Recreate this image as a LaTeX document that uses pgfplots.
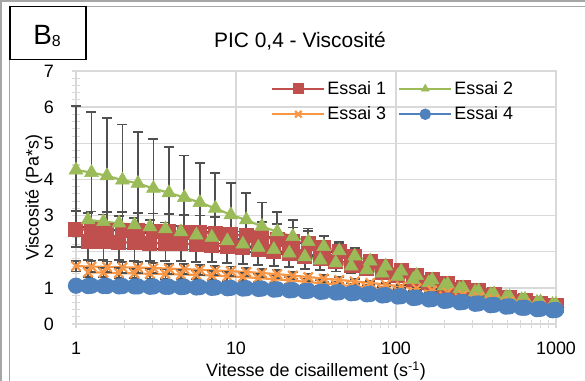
\documentclass[border=0pt]{standalone}
\usepackage{pgfplots}
\usepackage{pgfplotstable}
\pgfplotsset{compat=1.18}
\usepackage{fontspec}
\setmainfont{Liberation Sans}
\definecolor{c1}{HTML}{C0504D}
\definecolor{c2}{HTML}{9BBB59}
\definecolor{c3}{HTML}{F79646}
\definecolor{c4}{HTML}{4F81BD}
\definecolor{gridg}{HTML}{D9D9D9}
\definecolor{errg}{HTML}{505050}
\definecolor{frameg}{HTML}{A6A6A6}

\pgfplotstableread{
x y e
1 2.62 0.50
1.2496 2.61 0.50
1.5615 2.60 0.50
1.9513 2.59 0.50
2.4384 2.58 0.50
3.0471 2.57 0.49
3.8077 2.56 0.49
4.7581 2.54 0.48
5.9458 2.52 0.48
7.4300 2.50 0.47
9.2846 2.47 0.46
11.602 2.44 0.45
14.498 2.40 0.43
18.117 2.35 0.41
22.639 2.29 0.38
28.290 2.22 0.35
35.352 2.12 0.31
44.176 2.00 0.27
55.203 1.87 0.23
68.983 1.73 0.19
86.203 1.60 0.15
107.72 1.47 0.12
134.61 1.35 0.10
168.21 1.23 0.08
210.19 1.12 0.06
262.66 1.02 0.05
328.22 0.92 0.04
410.15 0.83 0.03
512.53 0.74 0.03
640.47 0.66 0.02
800.34 0.58 0.02
1000 0.50 0.02
951.2 0.50 0.02
761.2 0.56 0.02
609.14 0.63 0.02
487.46 0.71 0.03
390.09 0.79 0.03
312.17 0.87 0.04
249.81 0.96 0.05
199.91 1.05 0.06
159.98 1.14 0.08
128.03 1.23 0.10
102.45 1.33 0.12
81.986 1.43 0.15
65.609 1.53 0.19
52.503 1.63 0.23
42.016 1.72 0.27
33.623 1.80 0.31
26.906 1.88 0.35
21.532 1.95 0.38
17.231 2.01 0.41
13.789 2.07 0.43
11.035 2.11 0.45
8.830 2.15 0.46
7.067 2.18 0.47
5.655 2.20 0.48
4.525 2.22 0.48
3.621 2.23 0.49
2.898 2.24 0.49
2.319 2.25 0.50
1.856 2.26 0.50
1.485 2.27 0.50
1.189 2.28 0.50
}\tabA

\pgfplotstableread{
x y e
1 4.26 1.77
1.2496 4.19 1.68
1.5615 4.10 1.59
1.9513 3.98 1.54
2.4384 3.89 1.43
3.0471 3.75 1.36
3.8077 3.63 1.26
4.7581 3.50 1.16
5.9458 3.36 1.09
7.4300 3.20 0.97
9.2846 3.02 0.89
11.602 2.88 0.74
14.498 2.70 0.66
18.117 2.55 0.55
22.639 2.42 0.46
28.290 2.28 0.36
35.352 2.14 0.28
44.176 2.02 0.20
55.203 1.88 0.16
68.983 1.74 0.13
86.203 1.60 0.11
107.72 1.46 0.09
134.61 1.34 0.08
168.21 1.22 0.07
210.19 1.10 0.06
262.66 1.00 0.05
328.22 0.91 0.04
410.15 0.83 0.04
512.53 0.75 0.03
640.47 0.68 0.03
800.34 0.61 0.02
1000 0.54 0.02
951.2 0.54 0.02
761.2 0.60 0.02
609.14 0.67 0.02
487.46 0.74 0.02
390.09 0.81 0.02
312.17 0.89 0.03
249.81 0.97 0.03
199.91 1.05 0.03
159.98 1.14 0.04
128.03 1.23 0.04
102.45 1.32 0.05
81.986 1.41 0.05
65.609 1.50 0.06
52.503 1.60 0.07
42.016 1.69 0.08
33.623 1.77 0.09
26.906 1.86 0.10
21.532 1.96 0.11
17.231 2.06 0.12
13.789 2.12 0.13
11.035 2.21 0.14
8.830 2.30 0.15
7.067 2.40 0.16
5.655 2.46 0.17
4.525 2.55 0.17
3.621 2.63 0.18
2.898 2.69 0.18
2.319 2.74 0.19
1.856 2.79 0.19
1.485 2.83 0.20
1.189 2.88 0.20
}\tabB

\pgfplotstableread{
x y e
1 1.60 0.15
1.2496 1.59 0.15
1.5615 1.58 0.15
1.9513 1.57 0.15
2.4384 1.56 0.15
3.0471 1.55 0.14
3.8077 1.53 0.14
4.7581 1.52 0.14
5.9458 1.50 0.14
7.4300 1.48 0.13
9.2846 1.46 0.13
11.602 1.44 0.12
14.498 1.41 0.12
18.117 1.38 0.11
22.639 1.34 0.10
28.290 1.30 0.10
35.352 1.26 0.09
44.176 1.22 0.08
55.203 1.18 0.07
68.983 1.14 0.06
86.203 1.09 0.05
107.72 1.04 0.05
134.61 0.99 0.04
168.21 0.93 0.04
210.19 0.87 0.03
262.66 0.81 0.03
328.22 0.75 0.03
410.15 0.69 0.02
512.53 0.63 0.02
640.47 0.57 0.02
800.34 0.51 0.02
1000 0.46 0.02
951.2 0.45 0.02
761.2 0.49 0.02
609.14 0.53 0.02
487.46 0.57 0.02
390.09 0.62 0.02
312.17 0.67 0.03
249.81 0.72 0.03
199.91 0.77 0.03
159.98 0.82 0.04
128.03 0.87 0.04
102.45 0.92 0.05
81.986 0.97 0.05
65.609 1.01 0.06
52.503 1.05 0.07
42.016 1.09 0.08
33.623 1.13 0.08
26.906 1.17 0.09
21.532 1.21 0.10
17.231 1.24 0.10
13.789 1.27 0.11
11.035 1.30 0.11
8.830 1.32 0.12
7.067 1.34 0.12
5.655 1.36 0.12
4.525 1.37 0.12
3.621 1.38 0.13
2.898 1.39 0.13
2.319 1.40 0.13
1.856 1.41 0.13
1.485 1.42 0.13
1.189 1.43 0.13
}\tabC

\pgfplotstableread{
x y e
1 1.06 0.03
1.2496 1.06 0.03
1.5615 1.05 0.03
1.9513 1.05 0.03
2.4384 1.04 0.03
3.0471 1.04 0.03
3.8077 1.03 0.03
4.7581 1.03 0.03
5.9458 1.02 0.03
7.4300 1.01 0.03
9.2846 1.00 0.03
11.602 0.99 0.03
14.498 0.98 0.03
18.117 0.96 0.03
22.639 0.94 0.03
28.290 0.92 0.03
35.352 0.90 0.03
44.176 0.88 0.03
55.203 0.86 0.03
68.983 0.83 0.03
86.203 0.80 0.03
107.72 0.77 0.03
134.61 0.73 0.03
168.21 0.69 0.03
210.19 0.65 0.02
262.66 0.61 0.02
328.22 0.57 0.02
410.15 0.53 0.02
512.53 0.49 0.02
640.47 0.45 0.02
800.34 0.42 0.02
1000 0.39 0.02
951.2 0.38 0.02
761.2 0.41 0.02
609.14 0.45 0.02
487.46 0.48 0.02
390.09 0.52 0.02
312.17 0.56 0.02
249.81 0.60 0.02
199.91 0.64 0.02
159.98 0.68 0.03
128.03 0.72 0.03
102.45 0.76 0.03
81.986 0.79 0.03
65.609 0.82 0.03
52.503 0.85 0.03
42.016 0.87 0.03
33.623 0.89 0.03
26.906 0.91 0.03
21.532 0.93 0.03
17.231 0.95 0.03
13.789 0.97 0.03
11.035 0.98 0.03
8.830 0.99 0.03
7.067 1.00 0.03
5.655 1.01 0.03
4.525 1.02 0.03
3.621 1.03 0.03
2.898 1.03 0.03
2.319 1.04 0.03
1.856 1.04 0.03
1.485 1.05 0.03
1.189 1.05 0.03
}\tabD

\begin{document}
\begin{tikzpicture}
\useasboundingbox (-76bp,-57bp) rectangle (509bp,324bp);
% frame
\draw[frameg, line width=1.5bp] (-76bp,323bp) -- (509bp,323bp);
\draw[frameg, line width=1.5bp] (-75bp,324bp) -- (-75bp,-57bp);
\draw[frameg, line width=1.5bp] (-66.5bp,317.5bp) -- (509bp,317.5bp);
\draw[frameg, line width=1.5bp] (-66.5bp,317.5bp) -- (-66.5bp,-57bp);
\begin{axis}[
  scale only axis, width=480bp, height=253bp,
  xmode=log, xmin=1, xmax=1000, ymin=0, ymax=7,
  xtick={1,10,100,1000},
  xticklabels={1,10,100,1000},
  minor xtick={2,3,4,5,6,7,8,9,20,30,40,50,60,70,80,90,200,300,400,500,600,700,800,900},
  ytick={0,1,2,3,4,5,6,7},
  yticklabels={0,1,2,3,4,5,6,7},
  minor ytick={0.2,0.4,...,6.9},
  grid=major, major grid style={draw=gridg, line width=1.3bp},
  axis line style={draw=gridg, line width=1.3bp},
  tick align=center, tick pos=left,
  major tick style={draw=gridg, line width=1.1bp},
  minor tick style={draw=gridg, line width=1.1bp},
  major tick length=8bp, minor tick length=8bp,
  ticklabel style={font=\fontsize{18}{20}\selectfont, text=black},
  yticklabel style={inner xsep=18bp},
  xticklabel style={inner ysep=0pt, text height=13bp, yshift=-13bp},
  every axis y label/.style={at={(axis description cs:-0.0875,0.5)}, rotate=90, anchor=center, font=\fontsize{18}{20}\selectfont},
  every axis x label/.style={at={(axis description cs:0.5,0)}, anchor=center, yshift=-47bp, font=\fontsize{18}{20}\selectfont},
  ylabel={Viscosité (Pa*s)},
  xlabel={Vitesse de cisaillement (s\textsuperscript{-1})},
  clip=false,
  legend columns=2,
  legend style={at={(0.40,0.975)}, anchor=north west, draw=none, fill=none,
    font=\fontsize{18}{20}\selectfont, row sep=7bp,
    /tikz/every even column/.append style={column sep=10bp}},
  legend cell align=left,
  legend image code/.code={\draw[mark repeat=2, mark phase=2, mark size=4.6bp] plot coordinates {(0bp,0bp) (26bp,0bp) (52bp,0bp)};},
  error bars/y dir=both, error bars/y explicit,
  error bars/error bar style={draw=errg, line width=1.8bp, solid},
  error bars/error mark options={draw=errg, rotate=90, mark size=5bp, line width=1.8bp},
]
\addplot[c1, line width=2.2bp, mark=square*, mark size=6.4bp, mark options={fill=c1, draw=c1, solid}]
  table[x=x, y=y, y error=e] {\tabA};
\addlegendentry{Essai 1}
\addplot[c2, line width=2.2bp, mark=triangle*, mark size=8bp, mark options={fill=c2, draw=c2, solid, line width=0.5bp}]
  table[x=x, y=y, y error=e] {\tabB};
\addlegendentry{Essai 2}
\addplot[c3, line width=2.2bp, mark=x, mark size=6.5bp, mark options={draw=c3, solid, line width=2.2bp}]
  table[x=x, y=y, y error=e] {\tabC};
\addlegendentry{Essai 3}
\addplot[c4, line width=2.2bp, mark=*, mark size=7bp, mark options={fill=c4, draw=c4, solid}]
  table[x=x, y=y, y error=e] {\tabD};
\addlegendentry{Essai 4}
\end{axis}
% title
\node[anchor=base, font=\fontsize{21}{24}\selectfont] at (224bp,276bp) {PIC 0,4 - Viscosité};
% B8 box
\draw[black, line width=1.5bp] (-66bp,317.5bp) rectangle (10bp,264.5bp);
\node[anchor=base, inner sep=0pt] at (-29bp,279bp) {\fontsize{28}{30}\selectfont B\raisebox{-2bp}{\fontsize{16}{18}\selectfont 8}};
\end{tikzpicture}
\end{document}
